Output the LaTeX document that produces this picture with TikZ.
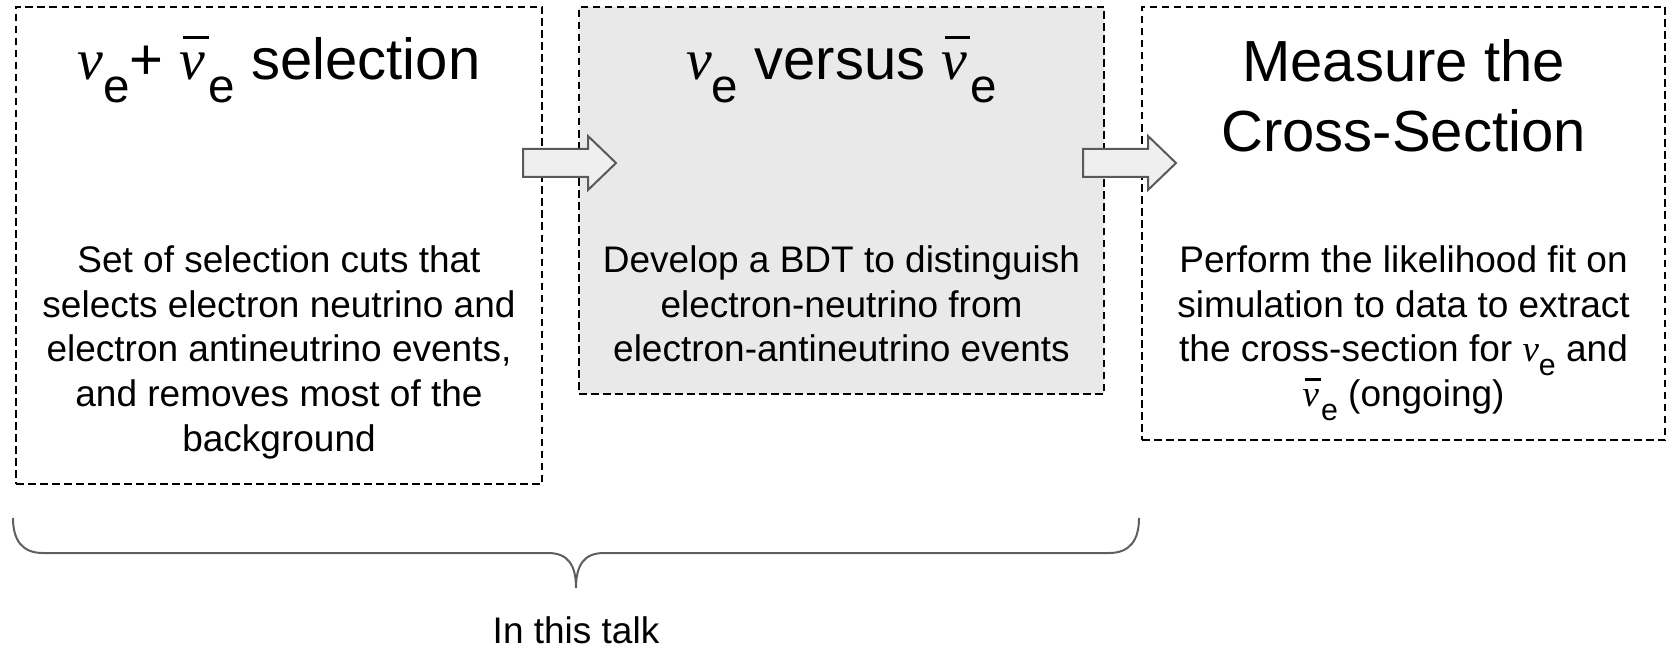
\documentclass[tikz,border=0pt]{standalone}
\usepackage{fontspec}
\usepackage{graphicx}
\setmainfont{Liberation Sans}
\newfontfamily\nufont{Liberation Serif}

% neutrino symbols: italic serif nu, lowered sans "e" subscript
\newcommand\nuchar{{\nufont\itshape ν}}
\newcommand\esub{\raisebox{-0.38em}{\scalebox{0.82}{e}}}
\newcommand\nubarchar{\ooalign{\nuchar\cr\hfil\kern0.06em\rule[0.7em]{0.44em}{0.06em}\hfil\cr}}
\newcommand\nue{\nuchar\esub}
\newcommand\nubare{\nubarchar\esub}

\tikzset{
  stagebox/.style={draw=black, line width=2pt, dash pattern=on 7.5pt off 4.5pt,
    inner sep=0pt, outer sep=0pt, anchor=north west},
  titletext/.style={anchor=base, inner sep=0pt, align=center,
    font=\fontsize{58}{70}\selectfont},
  bodytext/.style={anchor=base, inner sep=0pt, align=center,
    font=\fontsize{37}{44.7}\selectfont},
  blockarrow/.pic={
    \draw[draw=arrowgray, fill=arrowfill, line width=2pt, line join=miter]
      (0,-14) -- (65,-14) -- (65,-27) -- (93,0) -- (65,27) -- (65,14) -- (0,14) -- cycle;
  },
  bracestyle/.style={draw=bracegray, line width=2pt},
}
\definecolor{stagefill}{HTML}{E9E9E9}
\definecolor{arrowfill}{HTML}{EFEFEF}
\definecolor{arrowgray}{HTML}{595959}
\definecolor{bracegray}{HTML}{5F5F5F}

\begin{document}
\begin{tikzpicture}[x=1pt, y=-1pt]
\useasboundingbox (0,0) rectangle (1669,647);

% the three stages
\node[stagebox, minimum width=526pt, minimum height=477pt] (sel) at (16,7) {};
\node[stagebox, fill=stagefill, minimum width=525pt, minimum height=387pt] (sep) at (579,7) {};
\node[stagebox, minimum width=523pt, minimum height=433pt] (xsec) at (1142,7) {};

% stage titles (a multi-line node sits on the baseline of its last line)
\node[titletext] (selT) at (sel.center |- 0,80) {\nue+ \nubare{} selection};
\node[titletext] (sepT) at (sep.center |- 0,80) {\nue{} versus \nubare};
\node[titletext] (xsecT) at (xsec.center |- 0,152) {Measure the\\Cross-Section};

% stage descriptions, first lines on y = 272.5, line pitch 44.7
\node[bodytext] (selB) at (sel.center |- 0,451.3)
  {Set of selection cuts that\\selects electron neutrino and\\electron antineutrino events,\\and removes most of the\\background};
\node[bodytext] (sepB) at (sep.center |- 0,361.9)
  {Develop a BDT to distinguish\\electron-neutrino from\\electron-antineutrino events};
\node[bodytext] (xsecB) at (xsec.center |- 0,406.6)
  {Perform the likelihood fit on\\simulation to data to extract\\the cross-section for \nue{} and\\\nubare{} (ongoing)};

% block arrows between the stages
\coordinate (a1) at (523,163);
\coordinate (a2) at (1083,163);
\pic at (a1) {blockarrow};
\pic at (a2) {blockarrow};

% brace over the first two stages
\coordinate (bl) at (13,518);
\coordinate (bt) at (576,588);
\coordinate (br) at (1139,518);
\draw[bracestyle] (bl) .. controls (13,540) and (22,553) .. (43,553) -- (548,553)
  .. controls (568,553) and (576,565) .. (bt)
  .. controls (576,565) and (584,553) .. (604,553) -- (1109,553)
  .. controls (1130,553) and (1139,540) .. (br);

\node[bodytext] (talk) at (bt |- 0,643) {In this talk};
\end{tikzpicture}
\end{document}
